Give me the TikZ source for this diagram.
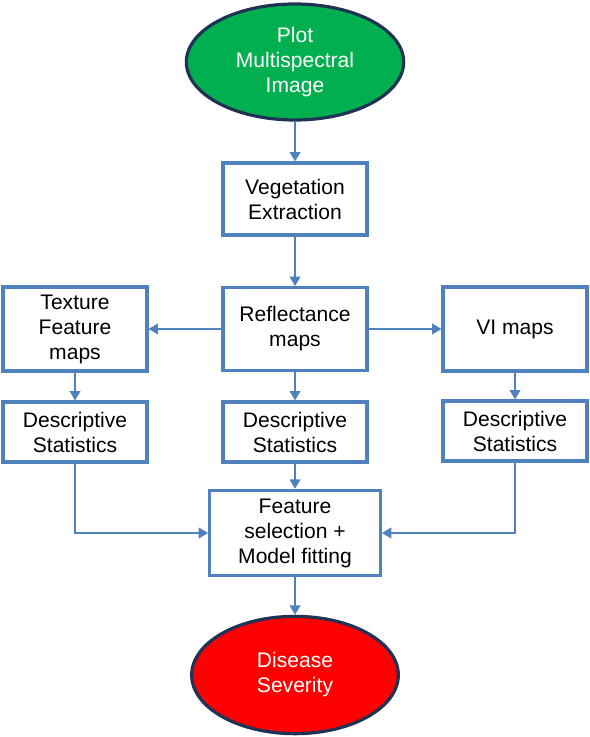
\documentclass[tikz,border=0pt]{standalone}
\usepackage{fontspec}
\setmainfont{Liberation Sans}
\usepackage{xcolor}
\usetikzlibrary{shapes.geometric,arrows.meta}
\definecolor{boxblue}{HTML}{4F81BD}
\definecolor{navy}{HTML}{1F3355}
\definecolor{leafgreen}{HTML}{00B050}

\begin{document}
\begin{tikzpicture}[x=0.75pt,y=-0.75pt,
  every node/.style={font=\fontsize{15.8pt}{18.75pt}\selectfont,align=center,inner sep=0pt},
  stepbox/.style={draw=boxblue,line width=2.4pt,fill=white,minimum width=108pt,minimum height=54pt},
  endblob/.style={ellipse,draw=navy,line width=2.4pt,text=white},
  flow/.style={draw=boxblue,line width=1.2pt,-{Triangle[length=7pt,width=8pt]}}]
  \useasboundingbox (0,0) rectangle (589,737);
  % start and end of the chain
  \node[endblob,fill=leafgreen,minimum width=163pt,minimum height=87pt] (img) at (295,62) {Plot\\Multispectral\\Image};
  \node[endblob,fill=red,minimum width=155pt,minimum height=88pt] (sev) at (295,675) {Disease\\Severity};
  % processing boxes
  \node[stepbox] (veg) at (295,199) {Vegetation\\Extraction};
  \node[stepbox,minimum height=62pt] (refl) at (295,329) {Reflectance\\maps};
  \node[stepbox,minimum height=63pt] (tex) at (75,329) {Texture\\Feature\\maps};
  \node[stepbox,minimum height=63pt] (vi) at (515,329) {VI maps};
  \node[stepbox,minimum height=45pt] (dsl) at (75,432) {Descriptive\\Statistics};
  \node[stepbox,minimum height=45pt] (dsm) at (295,432) {Descriptive\\Statistics};
  \node[stepbox,minimum height=45pt] (dsr) at (515,431) {Descriptive\\Statistics};
  \node[stepbox,minimum width=128pt,minimum height=64pt] (fit) at (295,533) {Feature\\selection +\\Model fitting};
  % connectors
  \draw[flow] (img) -- (veg);
  \draw[flow] (veg) -- (refl);
  \draw[flow] (refl) -- (tex);
  \draw[flow] (refl) -- (vi);
  \draw[flow] (tex) -- (dsl);
  \draw[flow] (refl) -- (dsm);
  \draw[flow] (vi) -- (dsr);
  \draw[flow] (dsm) -- (fit);
  \draw[flow] (dsl.south) |- (fit.west);
  \draw[flow] (dsr.south) |- (fit.east);
  \draw[flow] (fit) -- (sev);
\end{tikzpicture}
\end{document}
